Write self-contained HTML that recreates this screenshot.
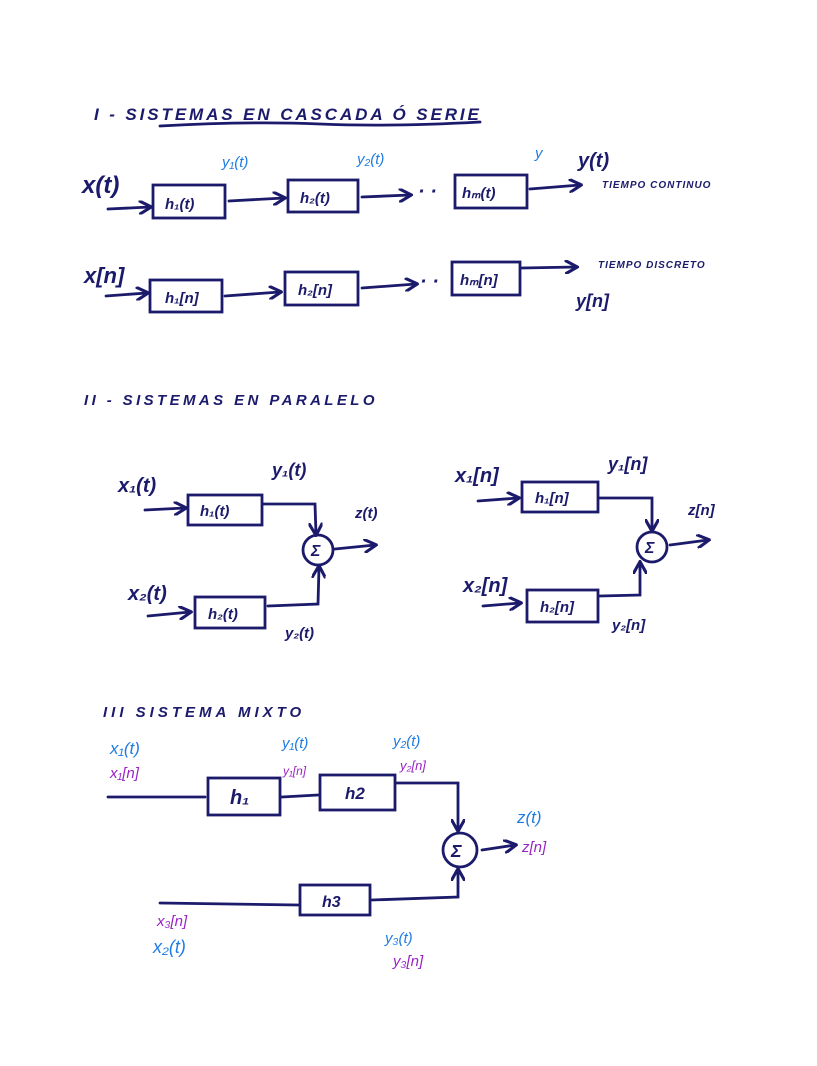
<!DOCTYPE html>
<html><head><meta charset="utf-8"><style>
html,body{margin:0;padding:0;background:#fff;width:817px;height:1066px;overflow:hidden}
svg{display:block}
text{font-family:"Liberation Sans",sans-serif;font-style:italic}
.k{fill:#1b1a6b}.b{fill:#1f7ce3}.p{fill:#9a22c4}
</style></head><body>
<svg width="817" height="1066" viewBox="0 0 817 1066">
<defs>
<marker id="a" viewBox="0 0 10 10" refX="8" refY="5" markerWidth="5" markerHeight="5" orient="auto"><path d="M0,0 L9,5 L0,10" fill="none" stroke="#1b1a6b" stroke-width="2.2"/></marker>
</defs>
<g stroke="#1b1a6b" stroke-width="2.8" fill="none" stroke-linecap="round">
<path d="M160,126 Q250,121 320,124 T480,122"/>
<path d="M108,209 L150,207" marker-end="url(#a)"/>
<rect x="153" y="185" width="72" height="33"/>
<path d="M229,201 L284,198" marker-end="url(#a)"/>
<rect x="288" y="180" width="70" height="32"/>
<path d="M362,197 L410,195" marker-end="url(#a)"/>
<rect x="455" y="175" width="72" height="33"/>
<path d="M530,189 L580,185" marker-end="url(#a)"/>
<path d="M106,296 L147,293" marker-end="url(#a)"/>
<rect x="150" y="280" width="72" height="32"/>
<path d="M225,296 L280,292" marker-end="url(#a)"/>
<rect x="285" y="272" width="73" height="33"/>
<path d="M362,288 L416,284" marker-end="url(#a)"/>
<rect x="452" y="262" width="68" height="33"/>
<path d="M522,268 L576,267" marker-end="url(#a)"/>
<path d="M145,510 L185,508" marker-end="url(#a)"/>
<rect x="188" y="495" width="74" height="30"/>
<path d="M263,504 L315,504 L316,534" marker-end="url(#a)"/>
<circle cx="318" cy="550" r="15"/>
<path d="M335,549 L375,545" marker-end="url(#a)"/>
<path d="M148,616 L190,612" marker-end="url(#a)"/>
<rect x="195" y="597" width="70" height="31"/>
<path d="M268,606 L318,604 L319,567" marker-end="url(#a)"/>
<path d="M478,501 L518,498" marker-end="url(#a)"/>
<rect x="522" y="482" width="76" height="30"/>
<path d="M599,498 L652,498 L652,530" marker-end="url(#a)"/>
<circle cx="652" cy="547" r="15"/>
<path d="M670,545 L708,540" marker-end="url(#a)"/>
<path d="M483,606 L520,603" marker-end="url(#a)"/>
<rect x="527" y="590" width="71" height="32"/>
<path d="M600,596 L640,595 L640,563" marker-end="url(#a)"/>
<path d="M108,797 L205,797"/>
<rect x="208" y="778" width="72" height="37"/>
<path d="M282,797 L318,795"/>
<rect x="320" y="775" width="75" height="35"/>
<path d="M396,783 L458,783 L458,830" marker-end="url(#a)"/>
<circle cx="460" cy="850" r="17"/>
<path d="M482,850 L515,845" marker-end="url(#a)"/>
<path d="M160,903 L298,905"/>
<rect x="300" y="885" width="70" height="30"/>
<path d="M372,900 L458,897 L458,870" marker-end="url(#a)"/>
</g>
<g font-size="15" class="k" font-weight="bold">
<text x="94" y="120" font-size="17" letter-spacing="2.9">I - SISTEMAS EN CASCADA Ó SERIE</text>
<text x="82" y="193" font-size="24">x(t)</text>
<text x="165" y="209">h₁(t)</text>
<text x="300" y="203">h₂(t)</text>
<text x="418" y="198" font-size="20">· ·</text>
<text x="462" y="198">hₘ(t)</text>
<text x="578" y="167" font-size="20">y(t)</text>
<text x="602" y="188" font-size="10" letter-spacing="1">TIEMPO CONTINUO</text>
<text x="84" y="283" font-size="22">x[n]</text>
<text x="165" y="303">h₁[n]</text>
<text x="298" y="295">h₂[n]</text>
<text x="420" y="288" font-size="20">· ·</text>
<text x="460" y="285">hₘ[n]</text>
<text x="598" y="268" font-size="10" letter-spacing="1">TIEMPO DISCRETO</text>
<text x="576" y="307" font-size="18">y[n]</text>
<text x="84" y="405" font-size="15" letter-spacing="3.4">II - SISTEMAS EN PARALELO</text>
<text x="118" y="492" font-size="20">x₁(t)</text>
<text x="200" y="516">h₁(t)</text>
<text x="272" y="476" font-size="18">y₁(t)</text>
<text x="311" y="556" font-size="16">Σ</text>
<text x="355" y="518">z(t)</text>
<text x="128" y="600" font-size="20">x₂(t)</text>
<text x="208" y="619">h₂(t)</text>
<text x="285" y="638">y₂(t)</text>
<text x="455" y="482" font-size="20">x₁[n]</text>
<text x="535" y="503">h₁[n]</text>
<text x="608" y="470" font-size="18">y₁[n]</text>
<text x="645" y="553" font-size="16">Σ</text>
<text x="688" y="515">z[n]</text>
<text x="463" y="592" font-size="20">x₂[n]</text>
<text x="540" y="612">h₂[n]</text>
<text x="612" y="630">y₂[n]</text>
<text x="103" y="717" font-size="15" letter-spacing="4">III SISTEMA MIXTO</text>
<text x="230" y="804" font-size="20">h₁</text>
<text x="345" y="799" font-size="17">h2</text>
<text x="322" y="907" font-size="16">h3</text>
<text x="451" y="857" font-size="18">Σ</text>
</g>
<g font-size="15">
<text class="b" x="222" y="167">y₁(t)</text>
<text class="b" x="357" y="164">y₂(t)</text>
<text class="b" x="535" y="158">y</text>
<text class="b" x="110" y="754" font-size="17">x₁(t)</text>
<text class="p" x="110" y="778">x₁[n]</text>
<text class="b" x="282" y="748">y₁(t)</text>
<text class="p" x="283" y="775" font-size="12">y₁[n]</text>
<text class="b" x="393" y="746">y₂(t)</text>
<text class="p" x="400" y="770" font-size="13">y₂[n]</text>
<text class="b" x="517" y="823" font-size="17">z(t)</text>
<text class="p" x="522" y="852">z[n]</text>
<text class="p" x="157" y="926">x₃[n]</text>
<text class="b" x="153" y="953" font-size="18">x₂(t)</text>
<text class="b" x="385" y="943">y₃(t)</text>
<text class="p" x="393" y="966">y₃[n]</text>
</g>
</svg>
</body></html>
